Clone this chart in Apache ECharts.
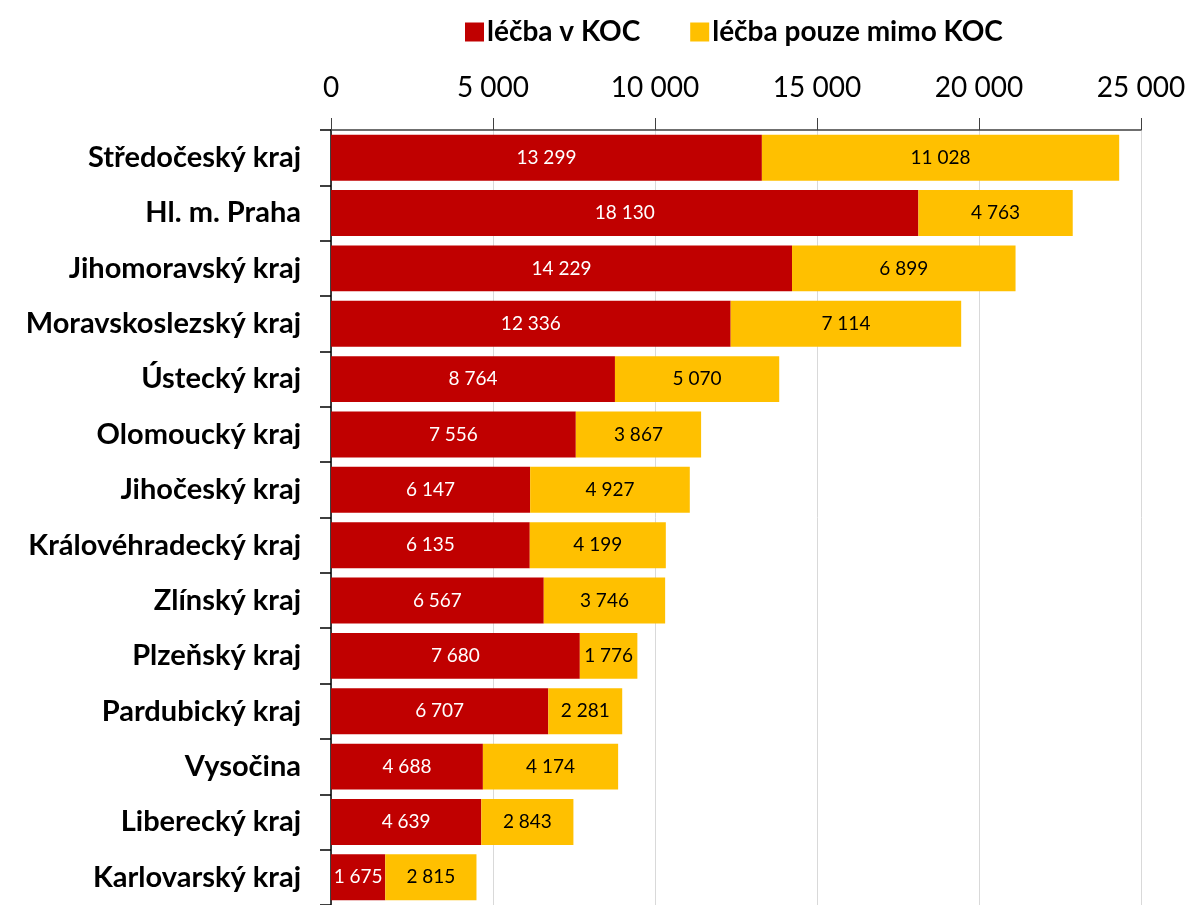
<!DOCTYPE html>
<html>
<head>
<meta charset="utf-8">
<script src="https://cdn.jsdelivr.net/npm/echarts@6/dist/echarts.min.js"></script>
<style>
  html, body { margin: 0; padding: 0; background: #fff; }
  #chart { width: 1191px; height: 905px; }
</style>
</head>
<body>
<div id="chart"></div>
<script>
// kraje, shora dolů
var regions = [
  "Středočeský kraj", "Hl. m. Praha", "Jihomoravský kraj", "Moravskoslezský kraj",
  "Ústecký kraj", "Olomoucký kraj", "Jihočeský kraj", "Královéhradecký kraj",
  "Zlínský kraj", "Plzeňský kraj", "Pardubický kraj", "Vysočina",
  "Liberecký kraj", "Karlovarský kraj"
];
var inKoc = [13299, 18130, 14229, 12336, 8764, 7556, 6147, 6135, 6567, 7680, 6707, 4688, 4639, 1675];
var outsideKoc = [11028, 4763, 6899, 7114, 5070, 3867, 4927, 4199, 3746, 1776, 2281, 4174, 2843, 2815];
var seriesNames = ["léčba v KOC", "léčba pouze mimo KOC"];

var FONT = "Lato";

function fmt(v) {
  return String(v).replace(/\B(?=(\d{3})+(?!\d))/g, " ");
}

var myChart = echarts.init(document.getElementById("chart"));
var option = {
  animation: false,
  textStyle: { fontFamily: FONT },
  legend: {
    top: 13,
    left: 460,
    itemWidth: 19,
    itemHeight: 19,
    itemGap: 50,
    icon: "rect",
    textStyle: { fontSize: 28, fontWeight: "bold", color: "#000", fontFamily: FONT, padding: [0, 0, 0, -2] },
    data: seriesNames
  },
  grid: {
    left: 331,
    right: 50,
    top: 130,
    bottom: -3,
    containLabel: false
  },
  xAxis: {
    type: "value",
    position: "top",
    min: 0,
    max: 25000,
    interval: 5000,
    axisLine: { show: true, lineStyle: { color: "#404040", width: 1.5 } },
    axisTick: { show: true, length: 12, lineStyle: { color: "#404040", width: 1 } },
    axisLabel: {
      margin: 28,
      fontSize: 28,
      color: "#000",
      fontFamily: FONT,
      formatter: function (v) { return fmt(v); }
    },
    splitLine: { show: true, lineStyle: { color: "#d9d9d9", width: 1 } }
  },
  yAxis: {
    type: "category",
    inverse: true,
    data: regions,
    axisLine: { show: true, lineStyle: { color: "#000", width: 1.5 } },
    axisTick: { show: true, length: 11, lineStyle: { color: "#000", width: 1.5 } },
    axisLabel: {
      margin: 30,
      fontSize: 29,
      fontWeight: "bold",
      color: "#000",
      fontFamily: FONT
    }
  },
  series: [
    {
      name: seriesNames[0],
      type: "bar",
      stack: "total",
      barCategoryGap: "17%",
      data: inKoc,
      itemStyle: { color: "#C00000" },
      label: {
        show: true,
        position: "inside",
        color: "#fff",
        fontSize: 19,
        fontFamily: FONT,
        formatter: function (p) { return fmt(p.value); }
      }
    },
    {
      name: seriesNames[1],
      type: "bar",
      stack: "total",
      barCategoryGap: "17%",
      data: outsideKoc,
      itemStyle: { color: "#FFC000" },
      label: {
        show: true,
        position: "inside",
        color: "#000",
        fontSize: 19,
        fontFamily: FONT,
        formatter: function (p) { return fmt(p.value); }
      }
    }
  ]
};
myChart.setOption(option);
</script>
</body>
</html>
